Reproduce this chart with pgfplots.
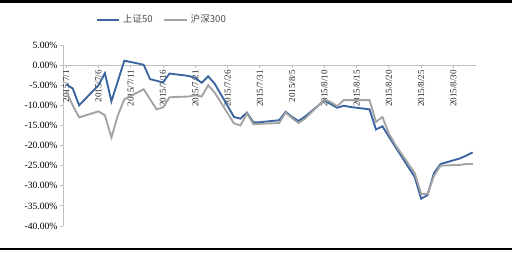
\documentclass[border=0pt]{standalone}
\usepackage{pgfplots}
\pgfplotsset{compat=1.18}
\usepackage{fontspec}
\setmainfont{Liberation Serif}
\newfontfamily\cjk{Noto Sans CJK SC}
\definecolor{sblue}{HTML}{3A64A0}
\definecolor{sgrey}{HTML}{A3A3A3}
\definecolor{axgrey}{HTML}{BFBFBF}

\pgfplotstableread{
d v
0 -4.8
1 -5.8
2 -10.0
5 -5.0
6 -2.0
7 -9.0
8 -4.0
9 1.1
12 0.1
13 -3.5
14 -3.9
15 -4.3
16 -2.1
19 -2.7
20 -3.2
21 -4.4
22 -2.8
23 -4.6
26 -12.9
27 -13.3
28 -11.8
29 -14.2
30 -14.2
33 -13.7
34 -11.6
35 -12.9
36 -13.9
37 -12.8
40 -8.8
41 -9.7
42 -10.6
43 -10.1
44 -10.4
47 -11.0
48 -16.0
49 -15.2
50 -17.8
51 -20.3
54 -27.8
55 -33.2
56 -32.3
57 -26.8
58 -24.6
61 -23.2
62 -22.5
63 -21.7
}\szfifty

\pgfplotstableread{
d v
0 -6.5
1 -10.0
2 -13.0
5 -11.5
6 -12.5
7 -18.0
8 -12.5
9 -8.5
12 -6.0
13 -8.5
14 -11.0
15 -10.5
16 -8.0
19 -7.8
20 -7.5
21 -7.8
22 -5.0
23 -6.8
26 -14.5
27 -15.0
28 -12.0
29 -14.7
30 -14.6
33 -14.4
34 -11.8
35 -13.2
36 -14.4
37 -13.3
40 -8.6
41 -9.2
42 -10.2
43 -8.7
44 -8.7
47 -8.7
48 -14.1
49 -12.9
50 -17.0
51 -19.8
54 -26.8
55 -32.0
56 -32.0
57 -27.5
58 -25.0
61 -24.8
62 -24.6
63 -24.6
}\hsthree

\begin{document}
\begin{tikzpicture}
\useasboundingbox (0,0) rectangle (384pt,-189.75pt);
\fill[black] (0,0) rectangle (384pt,-2.25pt);
\fill[black] (0,-186pt) rectangle (384pt,-187.5pt);
\begin{axis}[
  at={(47.25pt,-169.5pt)}, anchor=south west,
  scale only axis, width=309.75pt, height=135.75pt,
  xmin=-0.5, xmax=63.5, ymin=-40, ymax=5,
  axis x line*=middle, axis y line*=left,
  axis line style={axgrey, line width=0.6pt},
  tick style={axgrey, line width=0.6pt},
  tick align=outside, major tick length=2.5pt,
  xtick={0,5,...,60},
  xticklabels={2015/7/1,2015/7/6,2015/7/11,2015/7/16,2015/7/21,2015/7/26,2015/7/31,2015/8/5,2015/8/10,2015/8/15,2015/8/20,2015/8/25,2015/8/30},
  x tick label style={rotate=90, anchor=east, font=\fontsize{6.8}{7.5}\selectfont, inner sep=1pt, text=black!85},
  ytick={-40,-35,...,5},
  yticklabels={-40.00\%,-35.00\%,-30.00\%,-25.00\%,-20.00\%,-15.00\%,-10.00\%,-5.00\%,0.00\%,5.00\%},
  y tick label style={font=\fontsize{7.2}{8}\selectfont, inner sep=1.5pt, text=black},
  legend columns=2,
  legend style={draw=none, fill=none, at={(0.24,1.14)}, anchor=center,
    font=\cjk\fontsize{7.2}{8}\selectfont, text=black!70,
    /tikz/every even column/.append style={column sep=6pt}},
  legend image code/.code={\draw[#1] (0pt,0pt) -- (17pt,0pt);},
]
\addplot[sblue, line width=1.4pt, no markers] table[x=d,y=v] {\szfifty};
\addlegendentry{上证50}
\addplot[sgrey, line width=1.4pt, no markers] table[x=d,y=v] {\hsthree};
\addlegendentry{沪深300}
\end{axis}
\end{tikzpicture}
\end{document}
